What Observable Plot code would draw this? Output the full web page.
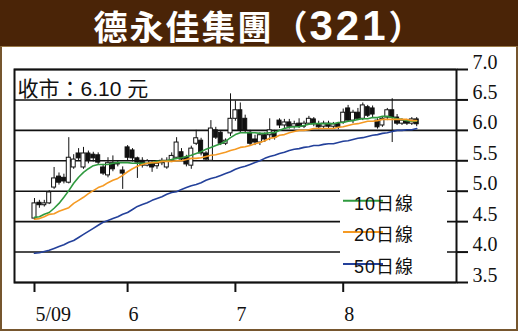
<!DOCTYPE html>
<html><head><meta charset="utf-8">
<script src="https://cdn.jsdelivr.net/npm/d3@7"></script>
<script src="https://cdn.jsdelivr.net/npm/@observablehq/plot@0.6"></script>
<style>
html,body{margin:0;padding:0;background:#fff;}
#card{position:relative;width:518px;height:331px;background:#4a2407;}
#title{position:absolute;left:0;top:1px;width:518px;text-align:center;color:#fff;font-family:"Noto Sans CJK TC";font-weight:700;font-size:34px;letter-spacing:2px;line-height:normal;white-space:nowrap;z-index:2;}
#title .num{font-family:"Liberation Sans";font-weight:700;font-size:42px;letter-spacing:3px;}
#panel{position:absolute;left:0;top:46px;width:518px;height:285px;box-sizing:border-box;border:2px solid #76562e;border-top:1px solid #9a7a4a;background:#fff;}
#chart{position:absolute;left:0;top:47px;}
</style></head><body>
<div id="card"><div id="panel"></div><div id="chart"></div><div id="title"></div></div>
<script>
const titleName = "德永佳集團";
const titleCode = "321";
const closeLabel = "收市：6.10 元";
const seriesNames = ["10日線", "20日線", "50日線"];
const xTickIdx = [0, 19, 41, 63];
const xTickLabels = ["5/09", "6", "7", "8"];
const yTicks = [7.0, 6.5, 6.0, 5.5, 5.0, 4.5, 4.0, 3.5];
const yTickLabels = ["7.0", "6.5", "6.0", "5.5", "5.0", "4.5", "4.0", "3.5"];

const open  = [4.55,4.81,4.77,4.80,5.06,5.24,5.22,5.14,5.39,5.62,5.39,5.62,5.60,5.59,5.39,5.26,5.46,5.46,5.34,5.72,
               5.67,5.54,5.50,5.42,5.46,5.41,5.46,5.39,5.50,5.55,5.64,5.55,5.42,5.78,5.83,5.62,5.50,6.00,5.96,5.78,
               5.95,6.19,6.33,6.19,5.96,5.85,5.80,5.92,5.92,5.96,6.16,6.08,6.13,6.06,6.11,6.06,6.11,6.18,6.10,6.06,
               6.11,6.06,6.10,6.13,6.36,6.16,6.29,6.19,6.38,6.36,6.16,6.08,6.21,6.33,6.21,6.11,6.15,6.11,6.18];
const high  = [4.88,4.85,4.85,5.01,5.39,5.30,5.28,5.88,5.60,5.70,5.72,5.66,5.64,5.63,5.44,5.55,5.58,5.50,5.40,5.75,
               5.70,5.56,5.55,5.52,5.49,5.49,5.54,5.55,5.63,5.88,5.70,5.59,5.74,6.00,5.87,5.65,6.16,6.05,5.98,5.86,
               6.60,6.48,6.45,6.25,6.00,5.92,5.96,5.96,6.19,6.00,6.19,6.18,6.18,6.15,6.19,6.15,6.23,6.21,6.15,6.15,
               6.15,6.13,6.13,6.35,6.41,6.33,6.36,6.45,6.41,6.40,6.19,6.21,6.36,6.52,6.26,6.19,6.18,6.21,6.21];
const low   = [4.52,4.72,4.74,4.78,5.03,5.10,5.12,5.12,5.36,5.50,5.36,5.45,5.48,5.44,5.26,5.22,5.32,5.40,5.03,5.50,
               5.48,5.21,5.38,5.40,5.31,5.36,5.42,5.36,5.47,5.52,5.49,5.40,5.36,5.75,5.58,5.49,5.49,5.85,5.75,5.75,
               5.90,6.15,5.96,5.95,5.75,5.75,5.75,5.80,5.83,5.84,6.03,6.03,6.02,6.02,6.03,6.03,6.08,6.06,6.01,6.02,
               6.03,6.02,6.01,6.10,6.13,6.11,6.16,6.16,6.21,6.21,6.02,6.05,6.16,5.80,6.08,6.08,6.08,6.08,6.06];
const close = [4.80,4.77,4.80,4.98,5.21,5.14,5.16,5.55,5.52,5.54,5.62,5.50,5.54,5.47,5.29,5.46,5.36,5.44,5.29,5.55,
               5.54,5.47,5.42,5.49,5.39,5.45,5.50,5.50,5.58,5.80,5.52,5.44,5.70,5.87,5.62,5.52,6.03,5.88,5.78,5.83,
               6.19,6.33,6.00,6.00,5.78,5.80,5.92,5.85,6.00,5.88,6.08,6.13,6.06,6.10,6.06,6.11,6.19,6.10,6.05,6.11,
               6.06,6.10,6.05,6.29,6.16,6.29,6.19,6.41,6.24,6.26,6.05,6.19,6.33,6.21,6.11,6.16,6.11,6.18,6.10];
const ma10  = [4.57,4.58,4.62,4.65,4.72,4.80,4.90,5.01,5.13,5.23,5.31,5.37,5.42,5.44,5.44,5.44,5.46,5.47,5.47,5.47,
               5.46,5.46,5.46,5.46,5.47,5.49,5.49,5.50,5.52,5.54,5.55,5.57,5.59,5.62,5.65,5.69,5.72,5.75,5.78,5.82,
               5.88,5.93,5.96,5.96,5.96,5.96,5.95,5.95,5.96,5.96,6.00,6.03,6.05,6.06,6.06,6.08,6.10,6.11,6.11,6.11,
               6.11,6.11,6.13,6.13,6.15,6.16,6.18,6.19,6.19,6.21,6.21,6.23,6.23,6.21,6.19,6.18,6.16,6.15,6.15];
const ma20  = [4.54,4.55,4.58,4.62,4.63,4.67,4.70,4.73,4.80,4.85,4.90,4.96,5.01,5.06,5.09,5.14,5.18,5.21,5.26,5.32,
               5.37,5.41,5.44,5.46,5.47,5.47,5.49,5.49,5.49,5.50,5.50,5.52,5.54,5.54,5.55,5.57,5.59,5.60,5.62,5.64,
               5.67,5.69,5.72,5.73,5.75,5.78,5.80,5.83,5.87,5.88,5.92,5.93,5.96,5.98,6.00,6.00,6.01,6.03,6.03,6.03,
               6.03,6.03,6.05,6.06,6.08,6.10,6.11,6.13,6.15,6.15,6.16,6.18,6.18,6.18,6.18,6.18,6.18,6.16,6.16];
const ma50  = [3.98,3.99,4.01,4.03,4.06,4.09,4.12,4.16,4.19,4.24,4.29,4.34,4.39,4.44,4.49,4.52,4.55,4.58,4.62,4.65,
               4.70,4.75,4.78,4.81,4.85,4.88,4.91,4.95,4.98,4.99,5.03,5.06,5.09,5.11,5.14,5.18,5.21,5.23,5.26,5.29,
               5.32,5.36,5.39,5.41,5.44,5.47,5.50,5.54,5.57,5.59,5.62,5.64,5.67,5.69,5.70,5.72,5.73,5.75,5.75,5.77,
               5.78,5.78,5.80,5.82,5.83,5.85,5.87,5.88,5.90,5.92,5.93,5.95,5.96,5.98,6.00,6.00,6.01,6.01,6.03];

const t = document.getElementById("title");
t.append(titleName + "（");
const num = document.createElement("span"); num.className = "num"; num.textContent = titleCode;
t.append(num);
t.append("）");

const days = close.map((c, i) => ({i, open: open[i], high: high[i], low: low[i], close: c,
  ma10: ma10[i], ma20: ma20[i], ma50: ma50[i]}));
const maKeys = ["ma10", "ma20", "ma50"];
const maColors = ["#2f9a3f", "#f59a23", "#23409a"];
const serif = "Liberation Serif, Times New Roman, serif";
const sans = "Liberation Sans, Noto Sans CJK TC, sans-serif";

const chart = Plot.plot({
  width: 518, height: 282,
  marginLeft: 14, marginRight: 62, marginTop: 22, marginBottom: 47,
  style: {background: "transparent", overflow: "visible"},
  x: {type: "linear", domain: [-4.08, 86.12], axis: null, label: null},
  y: {domain: [3.5, 7.0], axis: null, label: null},
  marks: [
    Plot.gridY(yTicks, {stroke: "#111", strokeOpacity: 1, strokeWidth: 1.6}),
    Plot.axisY(yTicks, {anchor: "right", tickSize: 11, tickFormat: () => "", label: null, stroke: "#111", strokeWidth: 2}),
    Plot.axisX(xTickIdx, {anchor: "bottom", tickSize: 10, tickFormat: () => "", label: null, stroke: "#111", strokeWidth: 2}),
    Plot.ruleX(days, {x: "i", y1: "low", y2: "high", stroke: "#111", strokeWidth: 1}),
    Plot.rect(days, {x1: d => d.i - 0.41, x2: d => d.i + 0.41, y1: "open", y2: "close",
      fill: d => d.close >= d.open ? "white" : "#111", stroke: "#111", strokeWidth: 1}),
    ...maKeys.map((k, j) => Plot.line(days, {x: "i", y: k, stroke: maColors[j], strokeWidth: 1.6})),
    Plot.frame({stroke: "#111", strokeWidth: 2}),
    Plot.text([closeLabel], {frameAnchor: "top-left", dx: 3, dy: 26, lineAnchor: "bottom", textAnchor: "start",
      fontSize: 21, fontFamily: sans, fill: "#111"}),
    Plot.text(yTicks, {y: d => d, text: (d, i) => yTickLabels[i], frameAnchor: "right", dx: 16, dy: -1,
      lineAnchor: "bottom", textAnchor: "start", fontSize: 20, fontFamily: serif, fill: "#111"}),
    Plot.text(xTickIdx, {x: d => d, text: (d, i) => xTickLabels[i], frameAnchor: "bottom", dx: 1, dy: 38,
      lineAnchor: "bottom", textAnchor: "start", fontSize: 20, fontFamily: serif, fill: "#111"})
  ]
});

// legend (white box over gridlines)
const svg = d3.select(chart);
const lg = svg.append("g");
lg.append("rect").attr("x", 340).attr("y", 123).attr("width", 107).attr("height", 105).attr("fill", "white");
const legendY = [153.7, 185, 217];
seriesNames.forEach((name, j) => {
  lg.append("line").attr("x1", 343).attr("x2", 383).attr("y1", legendY[j]).attr("y2", legendY[j])
    .attr("stroke", maColors[j]).attr("stroke-width", 2);
  lg.append("text").attr("x", 384).attr("y", legendY[j] + 9).attr("font-size", 18)
    .attr("font-family", sans).attr("letter-spacing", 1).attr("fill", "#111").text(name);
});

document.getElementById("chart").appendChild(chart);
</script>
</body></html>
